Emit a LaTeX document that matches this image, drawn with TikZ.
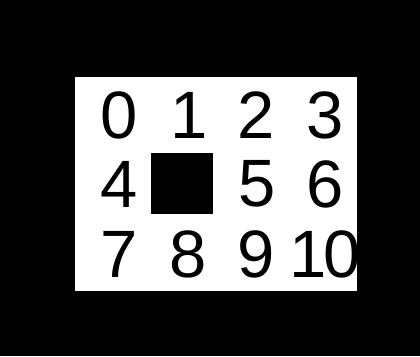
\documentclass[tikz,border=0pt]{standalone}
\usepackage{fontspec}
\setmainfont{Liberation Sans}
\begin{document}
\begin{tikzpicture}[x=1pt,y=1pt,
  digit/.style={inner sep=0pt, outer sep=0pt, text=black, font=\fontsize{67}{80}\selectfont},
  panel/.style={fill=white, draw=none, inner sep=0pt, outer sep=0pt, anchor=south west},
  blockbox/.style={fill=black, draw=none, inner sep=0pt, outer sep=0pt}]
\fill[black] (0,0) rectangle (420,356);
\useasboundingbox (0,0) rectangle (420,356);
\node[panel, minimum width=282pt, minimum height=214pt] (panel) at (75,65) {};
\node[blockbox, minimum width=62pt, minimum height=61pt] (block) at (181.7,172.9) {};
\begin{scope}
\clip (75,65) rectangle (357,279);
\node[digit] (d0) at (118.8,241) {0};
\node[digit] (d1) at (189.5,241) {1};
\node[digit] (d2) at (256.5,241) {2};
\node[digit] (d3) at (325,241) {3};
\node[digit] (d4) at (119,172) {4};
\node[digit] (d5) at (256.7,172) {5};
\node[digit] (d6) at (325,172) {6};
\node[digit] (d7) at (119.5,101.5) {7};
\node[digit] (d8) at (188.3,101.5) {8};
\node[digit] (d9) at (256.3,101.5) {9};
\node[digit] (d10) at (325,101.5) {1\kern-4pt 0};
\end{scope}
\end{tikzpicture}
\end{document}
